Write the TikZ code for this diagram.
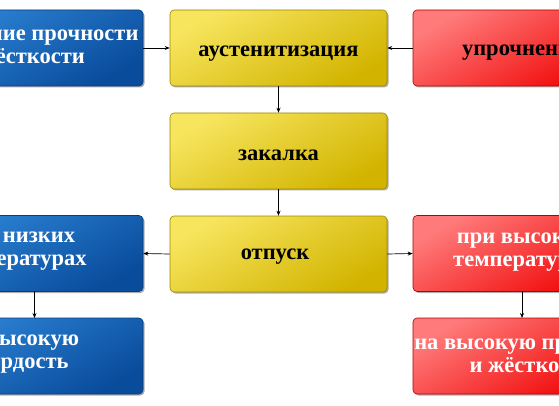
\documentclass[tikz,border=0pt]{standalone}
\usepackage{fontspec}
\setmainfont{Liberation Serif}
\newfontfamily\boxfont{Liberation Serif Bold}
\usetikzlibrary{shadows,arrows.meta}
\definecolor{ylight}{HTML}{F7E55E}
\definecolor{ydark}{HTML}{D2B400}
\definecolor{yedge}{HTML}{9C8600}
\definecolor{blight}{HTML}{2D84D6}
\definecolor{bdark}{HTML}{0A4C9C}
\definecolor{bedge}{HTML}{083C7C}
\definecolor{rlight}{HTML}{FF7A7A}
\definecolor{rdark}{HTML}{F00000}
\definecolor{redge}{HTML}{B80000}
\tikzset{
  box/.style={draw, line width=0.6pt, rounded corners=4pt, minimum width=217pt, minimum height=76pt,
    inner sep=0pt, drop shadow={shadow xshift=1.5pt, shadow yshift=-1.5pt, opacity=0.45, fill=black!70}},
  ybox/.style={box, draw=yedge, top color=ylight, bottom color=ydark, shading angle=30},
  bbox/.style={box, draw=bedge, top color=blight, bottom color=bdark, shading angle=30, minimum width=223pt},
  rbox/.style={box, draw=redge, top color=rlight, bottom color=rdark, shading angle=30, minimum width=227pt},
  txt/.style={font=\boxfont\fontsize{22.5}{23}\selectfont, align=center, inner sep=0pt},
  wtxt/.style={txt, text=white},
  btxt/.style={txt, text=black},
  arr/.style={-{Stealth[length=5pt,width=4pt]}, line width=0.7pt, black}
}
\begin{document}
\begin{tikzpicture}[x=1pt,y=-1pt]
\useasboundingbox (0,0) rectangle (559,406);
\clip (0,0) rectangle (559,406);
\fill[white] (0,0) rectangle (559,406);
% boxes
\node[ybox] (aus) at (278.5,48) {};
\node[ybox] (zak) at (278.5,151) {};
\node[ybox] (otp) at (278.5,254) {};
\node[bbox] (b1) at (31.5,48) {};
\node[bbox] (b2) at (31.5,253.5) {};
\node[bbox] (b3) at (31.5,356) {};
\node[rbox] (r1) at (526.5,48) {};
\node[rbox] (r2) at (526.5,253.5) {};
\node[rbox] (r3) at (526.5,356) {};
% texts
\node[btxt] (taus) at (278.5,54) {аустенитизация};
\node[btxt] (tzak) at (278.5,155) {закалка};
\node[btxt] (totp) at (275,257) {отпуск};
\node[wtxt] (tb1) at (23,47) {повышение прочности\\и жёсткости};
\node[wtxt] (tb2) at (17,251) {при низких\\температурах};
\node[wtxt] (tb3) at (18,354) {на высокую\\твёрдость};
\node[btxt] (tr1) at (521.5,53) {упрочнение};
\node[wtxt] (tr2) at (523,252) {при высоких\\температурах};
\node[wtxt] (tr3) at (531,356) {на высокую прочность\\и жёсткость};
% connectors
\draw[arr] (b1.east) -- (aus.west);
\draw[arr] (r1.west) -- (aus.east);
\draw[arr] (aus.south) -- (zak.north);
\draw[arr] (zak.south) -- (otp.north);
\draw[arr] (otp.west) -- (b2.east);
\draw[arr] (otp.east) -- (r2.west);
\coordinate (b2s) at (34.5,291);
\coordinate (b3n) at (34.5,318);
\draw[arr] (b2s) -- (b3n);
\coordinate (r2s) at (522,291);
\coordinate (r3n) at (522,318);
\draw[arr] (r2s) -- (r3n);
\end{tikzpicture}
\end{document}
